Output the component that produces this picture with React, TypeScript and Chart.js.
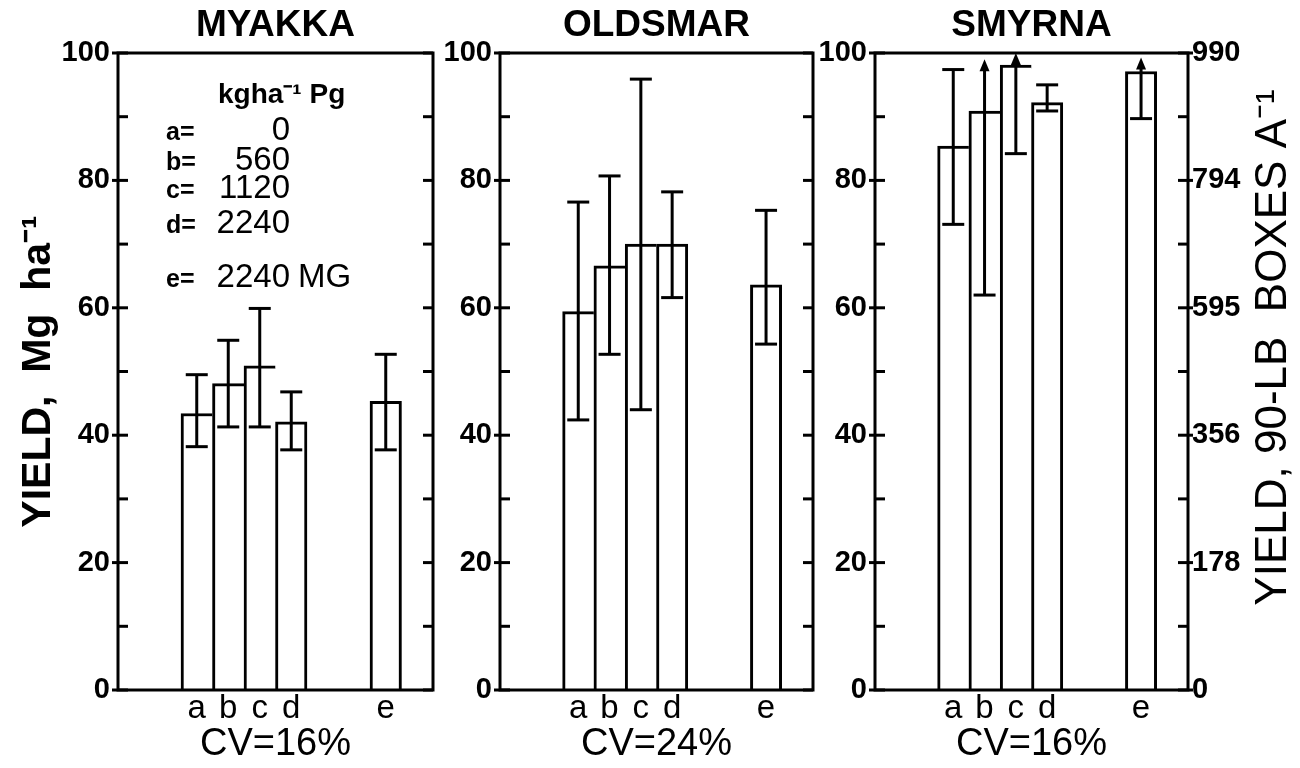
import React, { useEffect, useRef } from 'react';
import { Chart, registerables } from 'chart.js';

Chart.register(...registerables);

// ---------- data ----------
const xSlots = ['', '', 'a', 'b', 'c', 'd', '', '', 'e', ''];
const treatments = ['a', 'b', 'c', 'd', 'e'];

const siteNames = ['MYAKKA', 'OLDSMAR', 'SMYRNA'];
const cvLabels = ['CV=16%', 'CV=24%', 'CV=16%'];

const myakkaMean = [43.4, 48.1, 50.9, 42.1, 45.3];
const myakkaLow = [38.2, 41.3, 41.3, 37.7, 37.7];
const myakkaHigh = [49.5, 54.9, 59.9, 46.8, 52.7];
const myakkaArrow = [false, false, false, false, false];

const oldsmarMean = [59.4, 66.6, 70.0, 70.0, 63.6];
const oldsmarLow = [42.4, 52.7, 44.0, 61.6, 54.3];
const oldsmarHigh = [76.6, 80.7, 95.9, 78.2, 75.3];
const oldsmarArrow = [false, false, false, false, false];

const smyrnaMean = [85.4, 90.9, 98.1, 92.2, 97.1];
const smyrnaLow = [73.1, 62.0, 84.2, 90.9, 89.7];
const smyrnaHigh = [97.4, 99.0, 100.0, 95.0, 99.3];
const smyrnaArrow = [false, true, true, false, true];

const yMajorTicks = [0, 20, 40, 60, 80, 100];
const yMinorTicks = [0, 10, 20, 30, 40, 50, 60, 70, 80, 90, 100];
const boxTickLabels = ['0', '178', '356', '595', '794', '990'];

const leftAxisTitle = 'YIELD,  Mg  ha\u207B\u00B9';
const rightAxisTitle = 'YIELD, 90-LB  BOXES A\u207B\u00B9';

const legendHeader = 'kgha\u207B\u00B9 Pg';
const legendKeys = ['a=', 'b=', 'c=', 'd=', 'e='];
const legendRates = ['0', '560', '1120', '2240', '2240'];
const legendNotes = ['', '', '', '', 'MG'];

// ---------- layout / style ----------
const W = 1300;
const H = 768;
const BOTTOM = 690;
const FONT = "'Liberation Sans', Arial, sans-serif";
const INK = '#000';

const panels = [
  { name: siteNames[0], cv: cvLabels[0], mean: myakkaMean, low: myakkaLow, high: myakkaHigh, arrow: myakkaArrow, left: 118, right: 433, yTitle: true, rightAxis: false, legend: true },
  { name: siteNames[1], cv: cvLabels[1], mean: oldsmarMean, low: oldsmarLow, high: oldsmarHigh, arrow: oldsmarArrow, left: 500, right: 813, yTitle: false, rightAxis: false, legend: false },
  { name: siteNames[2], cv: cvLabels[2], mean: smyrnaMean, low: smyrnaLow, high: smyrnaHigh, arrow: smyrnaArrow, left: 875, right: 1188, yTitle: false, rightAxis: true, legend: false },
];

function line(ctx: CanvasRenderingContext2D, x1: number, y1: number, x2: number, y2: number) {
  ctx.beginPath();
  ctx.moveTo(x1, y1);
  ctx.lineTo(x2, y2);
  ctx.stroke();
}

function makeConfig(p: any): any {
  const leftAxisWidth = p.yTitle ? p.left - 16 : 60;
  const padLeft = p.left - leftAxisWidth;
  const rightAxisWidth = p.rightAxis ? W - p.right : 0;
  const padRight = W - p.right - rightAxisWidth;

  const slotValue = (arr: any[]) =>
    xSlots.map((lab) => {
      const k = treatments.indexOf(lab);
      return k >= 0 ? arr[k] : null;
    });
  const values = slotValue(p.mean);

  const frameTicks = {
    id: 'frameTicks',
    afterDatasetsDraw(chart: any) {
      const { ctx, chartArea: a } = chart;
      const y = chart.scales.y;
      ctx.save();
      ctx.strokeStyle = INK;
      ctx.lineWidth = 3;
      ctx.lineCap = 'square';
      ctx.strokeRect(a.left, a.top, a.right - a.left, a.bottom - a.top);
      ctx.lineCap = 'butt';
      yMinorTicks.forEach((v) => {
        const py = y.getPixelForValue(v);
        const major = yMajorTicks.includes(v);
        line(ctx, a.left - (major ? 6 : 0), py, a.left + 10, py);
        line(ctx, a.right - 10, py, a.right + (major && p.rightAxis ? 5 : 0), py);
      });
      ctx.restore();
    },
  };

  const errorBars = {
    id: 'errorBars',
    afterDatasetsDraw(chart: any) {
      const { ctx } = chart;
      const meta = chart.getDatasetMeta(0);
      const y = chart.scales.y;
      ctx.save();
      ctx.strokeStyle = INK;
      ctx.fillStyle = INK;
      ctx.lineWidth = 3;
      xSlots.forEach((lab, i) => {
        const k = treatments.indexOf(lab);
        if (k < 0) return;
        const x = meta.data[i].x;
        const yl = y.getPixelForValue(p.low[k]);
        const yh = y.getPixelForValue(p.high[k]);
        if (p.arrow[k]) {
          line(ctx, x, yl, x, yh + 8);
          ctx.beginPath();
          ctx.moveTo(x, yh);
          ctx.lineTo(x - 5, yh + 12);
          ctx.lineTo(x + 5, yh + 12);
          ctx.closePath();
          ctx.fill();
        } else {
          line(ctx, x, yl, x, yh);
          line(ctx, x - 11, yh, x + 11, yh);
        }
        line(ctx, x - 11, yl, x + 11, yl);
      });
      ctx.restore();
    },
  };

  const legendText = {
    id: 'legendText',
    afterDraw(chart: any) {
      if (!p.legend) return;
      const { ctx, chartArea: a } = chart;
      ctx.save();
      ctx.fillStyle = INK;
      ctx.textBaseline = 'alphabetic';
      ctx.textAlign = 'left';
      ctx.font = `bold 28px ${FONT}`;
      ctx.fillText(legendHeader, a.left + 100, a.top + 50);
      const baselines = [87, 117, 145, 180, 234];
      legendKeys.forEach((key, i) => {
        const by = a.top + baselines[i];
        ctx.textAlign = 'left';
        ctx.font = `bold 25px ${FONT}`;
        ctx.fillText(key, a.left + 48, by);
        ctx.textAlign = 'right';
        ctx.font = `33px ${FONT}`;
        ctx.fillText(legendRates[i], a.left + 172, by);
        if (legendNotes[i]) {
          ctx.textAlign = 'left';
          ctx.fillText(legendNotes[i], a.left + 180, by);
        }
      });
      ctx.restore();
    },
  };

  const rightTitle = {
    id: 'rightTitle',
    afterDraw(chart: any) {
      if (!p.rightAxis) return;
      const { ctx, chartArea: a } = chart;
      ctx.save();
      ctx.translate(a.right + 86, (a.top + a.bottom) / 2 - 24);
      ctx.rotate(-Math.PI / 2);
      ctx.fillStyle = INK;
      ctx.textAlign = 'center';
      ctx.textBaseline = 'middle';
      ctx.font = `44px ${FONT}`;
      ctx.fillText(rightAxisTitle, 0, 0);
      ctx.restore();
    },
  };

  const scales: any = {
    x: {
      type: 'category',
      position: 'bottom',
      grid: { display: false, drawTicks: false },
      border: { display: false },
      ticks: { color: INK, font: { family: FONT, size: 33 }, padding: -1, autoSkip: false, maxRotation: 0 },
      title: { display: true, text: p.cv, color: INK, font: { family: FONT, size: 38, lineHeight: 1 }, padding: { top: 0, bottom: 4 } },
      afterFit: (s: any) => { s.height = H - BOTTOM; },
    },
    y: {
      type: 'linear',
      position: 'left',
      min: 0,
      max: 100,
      grid: { display: false, drawTicks: false },
      border: { display: false },
      ticks: { stepSize: 20, color: INK, font: { family: FONT, size: 29, weight: 'bold' }, padding: 8 },
      title: p.yTitle
        ? { display: true, text: leftAxisTitle, color: INK, font: { family: FONT, size: 41, weight: 'bold', lineHeight: 1.1 }, padding: { top: 0, bottom: 0 } }
        : { display: false },
      afterFit: (s: any) => { s.width = leftAxisWidth; },
    },
  };
  if (p.rightAxis) {
    scales.y2 = {
      type: 'linear',
      position: 'right',
      min: 0,
      max: 100,
      grid: { display: false, drawTicks: false },
      border: { display: false },
      ticks: {
        stepSize: 20,
        color: INK,
        font: { family: FONT, size: 29, weight: 'bold' },
        padding: 4,
        callback: (v: number) => boxTickLabels[yMajorTicks.indexOf(v)],
      },
      afterFit: (s: any) => { s.width = rightAxisWidth; },
    };
  }

  return {
    type: 'bar',
    data: {
      labels: xSlots,
      datasets: [
        {
          data: values,
          backgroundColor: '#fff',
          borderColor: INK,
          borderSkipped: false,
          borderWidth: (c: any) => {
            const i = c.dataIndex;
            const nextFilled = i + 1 < values.length && values[i + 1] !== null;
            return { top: 3, left: 3, bottom: 0, right: nextFilled ? 0 : 3 };
          },
          barPercentage: 1,
          categoryPercentage: 1,
        },
      ],
    },
    options: {
      responsive: false,
      animation: false,
      devicePixelRatio: 1,
      layout: { padding: { left: padLeft, right: padRight, top: 7, bottom: 0 } },
      plugins: {
        legend: { display: false },
        tooltip: { enabled: false },
        title: {
          display: true,
          text: p.name,
          fullSize: false,
          color: INK,
          font: { family: FONT, size: 37, weight: 'bold', lineHeight: 1 },
          padding: { top: 0, bottom: 9 },
        },
      },
      scales,
    },
    plugins: [frameTicks, errorBars, legendText, rightTitle],
  };
}

function Panel({ p }: { p: any }) {
  const ref = useRef<HTMLCanvasElement>(null);
  useEffect(() => {
    if (!ref.current) return;
    const chart = new Chart(ref.current, makeConfig(p));
    return () => chart.destroy();
  }, [p]);
  return (
    <canvas
      ref={ref}
      width={W}
      height={H}
      style={{ position: 'absolute', left: 0, top: 0, width: W, height: H }}
    />
  );
}

export default function App() {
  return (
    <div style={{ position: 'absolute', left: 0, top: 0, width: W, height: H, background: '#fff' }}>
      {panels.map((p) => (
        <Panel key={p.name} p={p} />
      ))}
    </div>
  );
}
